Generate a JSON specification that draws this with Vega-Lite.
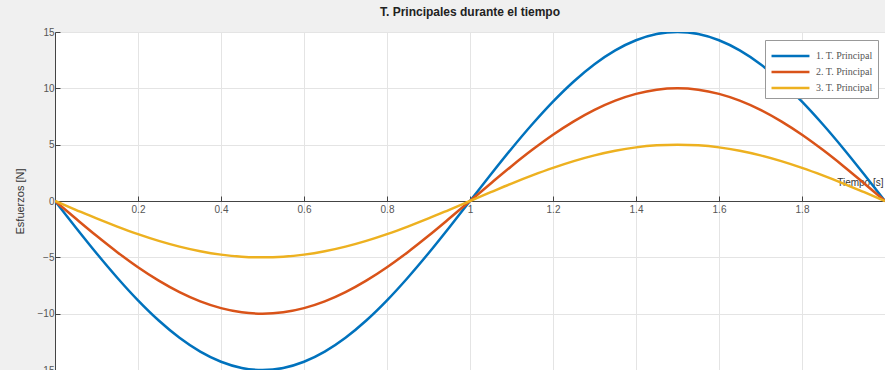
{
  "$schema": "https://vega.github.io/schema/vega-lite/v6.json",
  "autosize": "none",
  "width": 830,
  "height": 338,
  "padding": {"left": 55, "top": 32, "right": 0, "bottom": 0},
  "background": "#f0f0f0",
  "title": {
    "text": "T. Principales durante el tiempo",
    "font": "Liberation Sans",
    "fontSize": 12,
    "fontWeight": "bold",
    "color": "#222222",
    "offset": 8
  },
  "data": {
    "values": [
      {"t": 0, "s1": 0, "s2": 0, "s3": 0},
      {"t": 0.05, "s1": -2.35, "s2": -1.56, "s3": -0.78},
      {"t": 0.1, "s1": -4.64, "s2": -3.09, "s3": -1.55},
      {"t": 0.15, "s1": -6.81, "s2": -4.54, "s3": -2.27},
      {"t": 0.2, "s1": -8.82, "s2": -5.88, "s3": -2.94},
      {"t": 0.25, "s1": -10.61, "s2": -7.07, "s3": -3.54},
      {"t": 0.3, "s1": -12.14, "s2": -8.09, "s3": -4.05},
      {"t": 0.35, "s1": -13.37, "s2": -8.91, "s3": -4.46},
      {"t": 0.4, "s1": -14.27, "s2": -9.51, "s3": -4.76},
      {"t": 0.45, "s1": -14.82, "s2": -9.88, "s3": -4.94},
      {"t": 0.5, "s1": -15, "s2": -10, "s3": -5},
      {"t": 0.55, "s1": -14.82, "s2": -9.88, "s3": -4.94},
      {"t": 0.6, "s1": -14.27, "s2": -9.51, "s3": -4.76},
      {"t": 0.65, "s1": -13.37, "s2": -8.91, "s3": -4.46},
      {"t": 0.7, "s1": -12.14, "s2": -8.09, "s3": -4.05},
      {"t": 0.75, "s1": -10.61, "s2": -7.07, "s3": -3.54},
      {"t": 0.8, "s1": -8.82, "s2": -5.88, "s3": -2.94},
      {"t": 0.85, "s1": -6.81, "s2": -4.54, "s3": -2.27},
      {"t": 0.9, "s1": -4.64, "s2": -3.09, "s3": -1.55},
      {"t": 0.95, "s1": -2.35, "s2": -1.56, "s3": -0.78},
      {"t": 1.0, "s1": 0, "s2": 0, "s3": 0},
      {"t": 1.05, "s1": 2.35, "s2": 1.56, "s3": 0.78},
      {"t": 1.1, "s1": 4.64, "s2": 3.09, "s3": 1.55},
      {"t": 1.15, "s1": 6.81, "s2": 4.54, "s3": 2.27},
      {"t": 1.2, "s1": 8.82, "s2": 5.88, "s3": 2.94},
      {"t": 1.25, "s1": 10.61, "s2": 7.07, "s3": 3.54},
      {"t": 1.3, "s1": 12.14, "s2": 8.09, "s3": 4.05},
      {"t": 1.35, "s1": 13.37, "s2": 8.91, "s3": 4.46},
      {"t": 1.4, "s1": 14.27, "s2": 9.51, "s3": 4.76},
      {"t": 1.45, "s1": 14.82, "s2": 9.88, "s3": 4.94},
      {"t": 1.5, "s1": 15, "s2": 10, "s3": 5},
      {"t": 1.55, "s1": 14.82, "s2": 9.88, "s3": 4.94},
      {"t": 1.6, "s1": 14.27, "s2": 9.51, "s3": 4.76},
      {"t": 1.65, "s1": 13.37, "s2": 8.91, "s3": 4.46},
      {"t": 1.7, "s1": 12.14, "s2": 8.09, "s3": 4.05},
      {"t": 1.75, "s1": 10.61, "s2": 7.07, "s3": 3.54},
      {"t": 1.8, "s1": 8.82, "s2": 5.88, "s3": 2.94},
      {"t": 1.85, "s1": 6.81, "s2": 4.54, "s3": 2.27},
      {"t": 1.9, "s1": 4.64, "s2": 3.09, "s3": 1.55},
      {"t": 1.95, "s1": 2.35, "s2": 1.56, "s3": 0.78},
      {"t": 2.0, "s1": 0, "s2": 0, "s3": 0}
    ]
  },
  "transform": [{"fold": ["s1", "s2", "s3"], "as": ["serie", "valor"]}],
  "mark": {"type": "line", "strokeWidth": 2.5, "interpolate": "monotone", "clip": true},
  "encoding": {
    "x": {
      "field": "t",
      "type": "quantitative",
      "scale": {"domain": [0, 2], "nice": false},
      "axis": {
        "values": [0, 0.2, 0.4, 0.6, 0.8, 1, 1.2, 1.4, 1.6, 1.8, 2],
        "format": ".1~f",
        "labelExpr": "datum.value == 0 || datum.value >= 2 ? '' : datum.label",
        "offset": -169,
        "domainColor": "#444444",
        "tickColor": "#444444",
        "tickSize": -5,
        "labelPadding": 8,
        "labelFont": "Liberation Sans",
        "labelFontSize": 10,
        "labelColor": "#555555",
        "gridColor": "#e4e4e4",
        "title": "Tiempo [s]",
        "titleFont": "Liberation Sans",
        "titleFontSize": 10,
        "titleFontWeight": "normal",
        "titleColor": "#333333",
        "titleAnchor": "end",
        "titleAlign": "right",
        "titleBaseline": "bottom",
        "titleX": 828,
        "titleY": -14
      }
    },
    "y": {
      "field": "valor",
      "type": "quantitative",
      "scale": {"domain": [-15, 15], "nice": false},
      "axis": {
        "values": [-15, -10, -5, 0, 5, 10, 15],
        "domainColor": "#444444",
        "tickColor": "#444444",
        "tickSize": -5,
        "labelPadding": 6,
        "labelFont": "Liberation Sans",
        "labelFontSize": 10,
        "labelColor": "#555555",
        "gridColor": "#e4e4e4",
        "title": "Esfuerzos [N]",
        "titleFont": "Liberation Sans",
        "titleFontSize": 11,
        "titleFontWeight": "normal",
        "titleColor": "#333333",
        "titlePadding": 12
      }
    },
    "color": {
      "field": "serie",
      "type": "nominal",
      "scale": {"domain": ["s1", "s2", "s3"], "range": ["#0072BD", "#D95319", "#EDB120"]},
      "legend": {
        "title": null,
        "orient": "none",
        "legendX": 710,
        "legendY": 8,
        "labelExpr": "datum.value == 's1' ? '1. T. Principal' : datum.value == 's2' ? '2. T. Principal' : '3. T. Principal'",
        "labelFont": "Liberation Serif",
        "labelFontSize": 10,
        "labelColor": "#555555",
        "labelOffset": 24,
        "symbolType": "M-1,0L3,0",
        "symbolSize": 360,
        "symbolStrokeWidth": 2.5,
        "rowPadding": 0,
        "padding": 5,
        "fillColor": "white",
        "strokeColor": "#999999"
      }
    }
  },
  "config": {
    "view": {"fill": "white", "stroke": "#888888", "strokeWidth": 1}
  }
}
